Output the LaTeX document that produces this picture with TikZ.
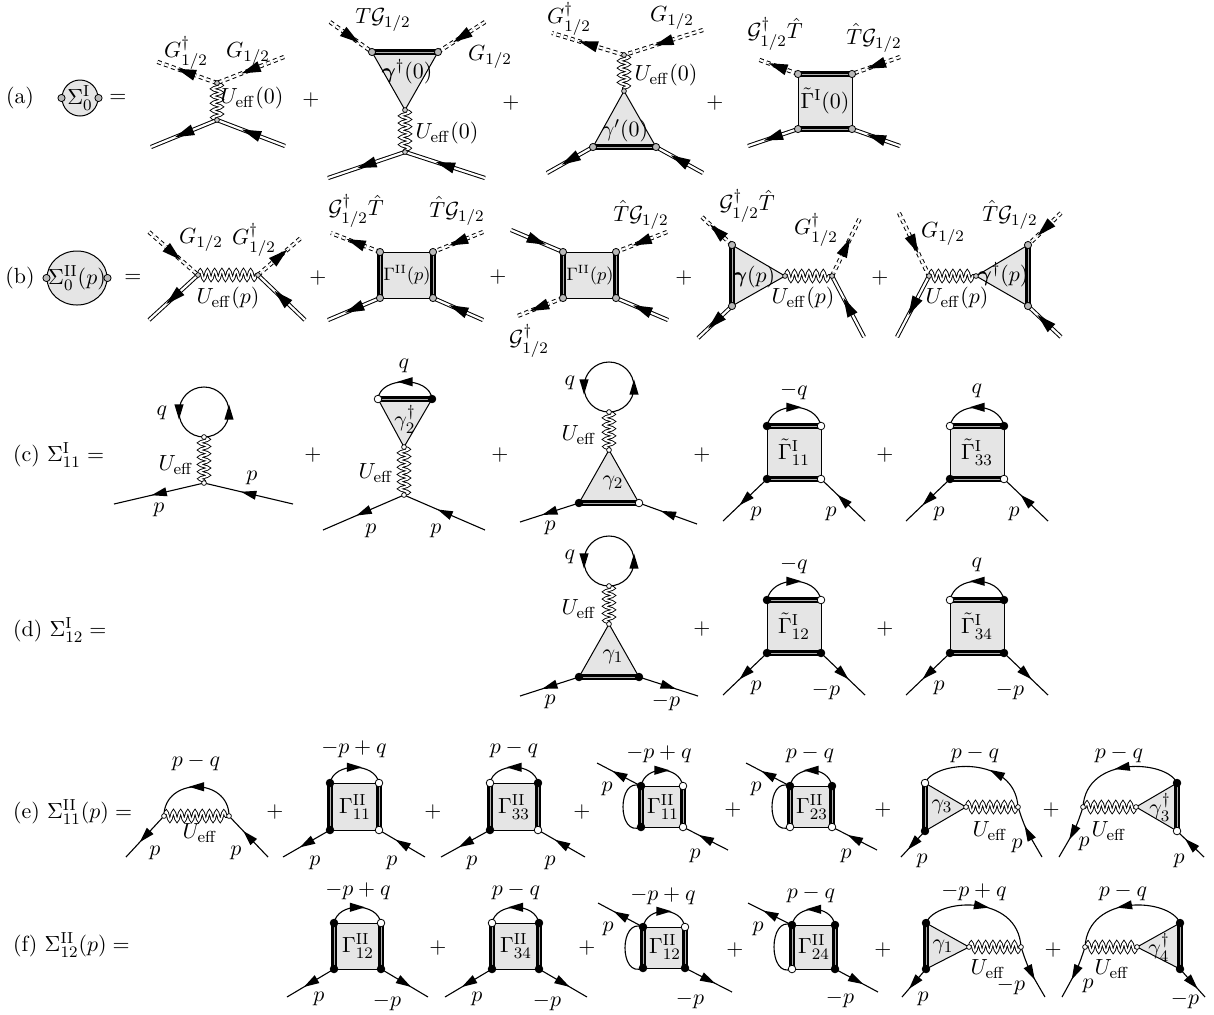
\documentclass[tikz,border=0pt]{standalone}
\usepackage{amsmath}
\usetikzlibrary{decorations.markings,decorations.pathmorphing,shapes.geometric}
\newcommand\tipS{\fill[black] (3.8pt,0pt) -- (-3.8pt,2.3pt) -- (-3.8pt,-2.3pt) -- cycle;}
\newcommand\tipB{\fill[black] (4.8pt,0pt) -- (-4.8pt,2.8pt) -- (-4.8pt,-2.8pt) -- cycle;}
\newcommand\vtx[2]{\node[#1] (#2d) at (#2) {};}
\tikzset{
  every node/.style={font=\fontsize{10.95}{13}\selectfont},
  smallt/.style={font=\fontsize{9}{11}\selectfont},
  fl/.style={line width=0.55pt},
  dbl/.style={line width=0.5pt, double, double distance=1.1pt},
  ddash/.style={line width=0.5pt, double, double distance=1.1pt, dash pattern=on 2pt off 1.7pt},
  wavy/.style={line width=0.45pt, double, double distance=0.9pt, decorate, decoration={snake, amplitude=2.2pt, segment length=3.6pt}},
  tdbl/.style={line width=1.05pt, double=gray!60, double distance=0.5pt},
  blob/.style={fill=gray!20, draw, line width=0.5pt, line join=round},
  blobc/.style={circle, fill=gray!20, draw, line width=0.5pt, inner sep=0pt},
  blobe/.style={ellipse, fill=gray!20, draw, line width=0.5pt, inner sep=0pt, minimum width=30pt, minimum height=27pt},
  gdot/.style={circle, fill=gray!55, draw, line width=0.4pt, inner sep=0pt, minimum size=3.6pt},
  sgdot/.style={circle, fill=gray!40, draw, line width=0.35pt, inner sep=0pt, minimum size=2.4pt},
  swdot/.style={circle, fill=white, draw, line width=0.35pt, inner sep=0pt, minimum size=2.4pt},
  bdot/.style={circle, fill=black, draw, line width=0.4pt, inner sep=0pt, minimum size=3.8pt},
  wdot/.style={circle, fill=white, draw, line width=0.4pt, inner sep=0pt, minimum size=3.8pt},
  am/.style={postaction={decorate, decoration={markings, mark=at position #1 with {\tipS}}}},
  am/.default=0.5,
  amb/.style={postaction={decorate, decoration={markings, mark=at position #1 with {\tipB}}}},
  amb/.default=0.5,
  am2/.style={postaction={decorate, decoration={markings, mark=at position 0.25 with {\tipS}, mark=at position 0.75 with {\tipS}}}},
}
\begin{document}
\begin{tikzpicture}[x=0.5pt,y=-0.5pt]
\useasboundingbox (0,0) rectangle (1214,1014);
\fill[white] (0,0) rectangle (1214,1014);

% ================= row (a)
\node (rowa) at (20,98) {(a)};
\node[blobc, minimum size=18pt] (Sa) at (80,98) {};
\node (Sat) at (80,98) {$\Sigma^{\rm I}_0$};
\node[gdot] (Saw) at (Sa.west) {};
\node[gdot] (Sae) at (Sa.east) {};
\node (eqa) at (118,98) {$=$};

\coordinate (a1t) at (217,83);
\coordinate (a1b) at (217,120);
\coordinate (a1el) at (155,61);
\coordinate (a1er) at (284,57);
\coordinate (a1dl) at (151,147);
\coordinate (a1dr) at (285,146);
\draw[wavy] (a1t) -- (a1b);
\draw[ddash,amb] (a1t) -- (a1el);
\draw[ddash,amb] (a1er) -- (a1t);
\draw[dbl,amb] (a1b) -- (a1dl);
\draw[dbl,amb] (a1dr) -- (a1b);
\vtx{sgdot}{a1t}\vtx{sgdot}{a1b}
\node (a1x) at (186,53) {$G^\dagger_{1/2}$};
\node (a1y) at (248,54) {$G_{1/2}$};
\node (a1z) at (252,98) {$U_{\rm eff}(0)$};
\node (pa1) at (311,100) {$+$};

\coordinate (a2tl) at (372,52);
\coordinate (a2tr) at (438,52);
\coordinate (a2a) at (405,110);
\coordinate (a2b) at (405,152);
\coordinate (a2el) at (330,22);
\coordinate (a2er) at (485,22);
\coordinate (a2dl) at (328,178);
\coordinate (a2dr) at (485,178);
\draw[blob] (a2tl) -- (a2tr) -- (a2a) -- cycle;
\draw[tdbl] (a2tl) -- (a2tr);
\draw[ddash,amb] (a2el) -- (a2tl);
\draw[ddash,amb] (a2er) -- (a2tr);
\draw[wavy] (a2a) -- (a2b);
\draw[dbl,amb] (a2b) -- (a2dl);
\draw[dbl,amb] (a2dr) -- (a2b);
\vtx{gdot}{a2tl}\vtx{gdot}{a2tr}\vtx{sgdot}{a2a}\vtx{sgdot}{a2b}
\node (a2x) at (383,20) {$T\mathcal{G}_{1/2}$};
\node (a2y) at (490,57) {$G_{1/2}$};
\node (a2z) at (407,72) {$\boldsymbol{\gamma}^\dagger(0)$};
\node (a2w) at (447,133) {$U_{\rm eff}(0)$};
\node (pa2) at (511,103) {$+$};

\coordinate (a3t) at (624,55);
\coordinate (a3a) at (624,91);
\coordinate (a3bl) at (593,147);
\coordinate (a3br) at (656,147);
\coordinate (a3el) at (552,33);
\coordinate (a3er) at (703,30);
\coordinate (a3dl) at (547,173);
\coordinate (a3dr) at (703,173);
\draw[blob] (a3a) -- (a3bl) -- (a3br) -- cycle;
\draw[tdbl] (a3bl) -- (a3br);
\draw[wavy] (a3t) -- (a3a);
\draw[ddash,amb] (a3t) -- (a3el);
\draw[ddash,amb] (a3er) -- (a3t);
\draw[dbl,amb] (a3bl) -- (a3dl);
\draw[dbl,amb] (a3dr) -- (a3br);
\vtx{sgdot}{a3t}\vtx{sgdot}{a3a}\vtx{gdot}{a3bl}\vtx{gdot}{a3br}
\node (a3x) at (569,19) {$G^\dagger_{1/2}$};
\node (a3y) at (672,18) {$G_{1/2}$};
\node (a3z) at (666,75) {$U_{\rm eff}(0)$};
\node (a3w) at (625,131) {$\gamma'(0)$};
\node (pa3) at (715,103) {$+$};

\coordinate (a4tl) at (798,74);
\coordinate (a4tr) at (852,74);
\coordinate (a4bl) at (798,129);
\coordinate (a4br) at (852,129);
\coordinate (a4el) at (757,59);
\coordinate (a4er) at (900,57);
\coordinate (a4dl) at (748,146);
\coordinate (a4dr) at (900,146);
\draw[blob] (a4tl) -- (a4tr) -- (a4br) -- (a4bl) -- cycle;
\draw[tdbl] (a4tl) -- (a4tr);
\draw[tdbl] (a4bl) -- (a4br);
\draw[ddash,amb] (a4tl) -- (a4el);
\draw[ddash,amb] (a4er) -- (a4tr);
\draw[dbl,amb] (a4bl) -- (a4dl);
\draw[dbl,amb] (a4dr) -- (a4br);
\vtx{gdot}{a4tl}\vtx{gdot}{a4tr}\vtx{gdot}{a4bl}\vtx{gdot}{a4br}
\node (a4x) at (775,34) {$\mathcal{G}^\dagger_{1/2}\hat T$};
\node (a4y) at (874,38) {$\hat T\mathcal{G}_{1/2}$};
\node (a4z) at (825,101) {$\tilde\Gamma^{\rm I}(0)$};

% ================= row (b)
\node (rowb) at (20,278) {(b)};
\node[blobe] (Sb) at (77,278) {};
\node (Sbt) at (77,278) {$\Sigma^{\rm II}_0(p)$};
\node[gdot] (Sbw) at (Sb.west) {};
\node[gdot] (Sbe) at (Sb.east) {};
\node (eqb) at (133,278) {$=$};

\coordinate (b1l) at (198,275);
\coordinate (b1r) at (258,275);
\coordinate (b1el) at (149,232);
\coordinate (b1er) at (302,237);
\coordinate (b1dl) at (149,320);
\coordinate (b1dr) at (305,320);
\draw[wavy] (b1l) -- (b1r);
\draw[ddash,amb] (b1el) -- (b1l);
\draw[ddash,amb] (b1r) -- (b1er);
\draw[dbl,amb] (b1l) -- (b1dl);
\draw[dbl,amb] (b1dr) -- (b1r);
\vtx{sgdot}{b1l}\vtx{sgdot}{b1r}
\node (b1x) at (201,240) {$G_{1/2}$};
\node (b1y) at (254,240) {$G^\dagger_{1/2}$};
\node (b1z) at (228,298) {$U_{\rm eff}(p)$};
\node (pb1) at (318,278) {$+$};

\coordinate (b2tl) at (380,252);
\coordinate (b2tr) at (433,252);
\coordinate (b2bl) at (380,298);
\coordinate (b2br) at (433,298);
\coordinate (b2el) at (331,233);
\coordinate (b2er) at (483,232);
\coordinate (b2dl) at (328,320);
\coordinate (b2dr) at (483,320);
\draw[blob] (b2tl) -- (b2tr) -- (b2br) -- (b2bl) -- cycle;
\draw[tdbl] (b2tl) -- (b2bl);
\draw[tdbl] (b2tr) -- (b2br);
\draw[ddash,amb] (b2tl) -- (b2el);
\draw[ddash,amb] (b2er) -- (b2tr);
\draw[dbl,amb] (b2bl) -- (b2dl);
\draw[dbl,amb] (b2dr) -- (b2br);
\vtx{gdot}{b2tl}\vtx{gdot}{b2tr}\vtx{gdot}{b2bl}\vtx{gdot}{b2br}
\node (b2x) at (356,211) {$\mathcal{G}^\dagger_{1/2}\hat T$};
\node (b2y) at (457,211) {$\hat T\mathcal{G}_{1/2}$};
\node[smallt] (b2z) at (407,275) {$\Gamma^{\rm II}(p)$};
\node (pb2) at (498,277) {$+$};

\coordinate (b3tl) at (563,252);
\coordinate (b3tr) at (616,252);
\coordinate (b3bl) at (563,298);
\coordinate (b3br) at (616,298);
\coordinate (b3el) at (511,230);
\coordinate (b3er) at (667,232);
\coordinate (b3dl) at (515,317);
\coordinate (b3dr) at (668,320);
\draw[blob] (b3tl) -- (b3tr) -- (b3br) -- (b3bl) -- cycle;
\draw[tdbl] (b3tl) -- (b3bl);
\draw[tdbl] (b3tr) -- (b3br);
\draw[dbl,amb] (b3el) -- (b3tl);
\draw[ddash,amb] (b3er) -- (b3tr);
\draw[ddash,amb] (b3bl) -- (b3dl);
\draw[dbl,amb] (b3dr) -- (b3br);
\vtx{gdot}{b3tl}\vtx{gdot}{b3tr}\vtx{gdot}{b3bl}\vtx{gdot}{b3br}
\node (b3x) at (641,215) {$\hat T\mathcal{G}_{1/2}$};
\node (b3y) at (529,341) {$\mathcal{G}^\dagger_{1/2}$};
\node[smallt] (b3z) at (590,275) {$\Gamma^{\rm II}(p)$};
\node (pb3) at (684,278) {$+$};

\coordinate (b4tl) at (732,245);
\coordinate (b4bl) at (732,306);
\coordinate (b4a) at (785,276);
\coordinate (b4v) at (832,276);
\coordinate (b4el) at (702,217);
\coordinate (b4dl) at (698,338);
\coordinate (b4er) at (860,218);
\coordinate (b4dr) at (864,337);
\draw[blob] (b4tl) -- (b4a) -- (b4bl) -- cycle;
\draw[tdbl] (b4tl) -- (b4bl);
\draw[ddash,amb] (b4tl) -- (b4el);
\draw[dbl,amb] (b4bl) -- (b4dl);
\draw[wavy] (b4a) -- (b4v);
\draw[ddash,amb] (b4v) -- (b4er);
\draw[dbl,amb] (b4dr) -- (b4v);
\vtx{gdot}{b4tl}\vtx{gdot}{b4bl}\vtx{sgdot}{b4a}\vtx{sgdot}{b4v}
\node (b4x) at (747,206) {$\mathcal{G}^\dagger_{1/2}\hat T$};
\node (b4y) at (754,277) {$\boldsymbol{\gamma}(p)$};
\node (b4z) at (803,298) {$U_{\rm eff}(p)$};
\node (b4w) at (816,230) {$G^\dagger_{1/2}$};
\node (pb4) at (880,278) {$+$};

\coordinate (b5v) at (929,276);
\coordinate (b5a) at (976,276);
\coordinate (b5tr) at (1028,245);
\coordinate (b5br) at (1028,306);
\coordinate (b5el) at (899,213);
\coordinate (b5dl) at (897,337);
\coordinate (b5er) at (1061,213);
\coordinate (b5dr) at (1061,337);
\draw[blob] (b5a) -- (b5tr) -- (b5br) -- cycle;
\draw[tdbl] (b5tr) -- (b5br);
\draw[wavy] (b5v) -- (b5a);
\draw[ddash,amb] (b5el) -- (b5v);
\draw[dbl,amb] (b5v) -- (b5dl);
\draw[ddash,amb] (b5er) -- (b5tr);
\draw[dbl,amb] (b5dr) -- (b5br);
\vtx{gdot}{b5tr}\vtx{gdot}{b5br}\vtx{sgdot}{b5a}\vtx{sgdot}{b5v}
\node (b5x) at (943,234) {$G_{1/2}$};
\node (b5y) at (1010,215) {$\hat T\mathcal{G}_{1/2}$};
\node (b5z) at (1003,275) {$\boldsymbol{\gamma}^\dagger(p)$};
\node (b5w) at (957,298) {$U_{\rm eff}(p)$};

% ================= row (c)
\node[anchor=west] (rowc) at (6,455) {(c) $\Sigma^{\rm I}_{11}=$};

\coordinate (c1o) at (204,437);
\coordinate (c1R) at (229,412);
\coordinate (c1T) at (204,387);
\coordinate (c1L) at (179,412);
\coordinate (c1v) at (204,483);
\coordinate (c1el) at (114,504);
\coordinate (c1er) at (293,504);
\draw[fl,am2] (c1o) .. controls +(13.8,0) and +(0,13.8) .. (c1R) .. controls +(0,-13.8) and +(13.8,0) .. (c1T) .. controls +(-13.8,0) and +(0,-13.8) .. (c1L) .. controls +(0,13.8) and +(-13.8,0) .. (c1o);
\draw[wavy] (c1o) -- (c1v);
\draw[fl,am] (c1v) -- (c1el);
\draw[fl,am] (c1er) -- (c1v);
\vtx{swdot}{c1o}\vtx{swdot}{c1v}
\node (c1x) at (162,413) {$q$};
\node (c1y) at (176,465) {$U_{\rm eff}$};
\node (c1z) at (159,510) {$p$};
\node (c1w) at (252,478) {$p$};
\node (pc1) at (313,455) {$+$};

\coordinate (c2tl) at (378,399);
\coordinate (c2tr) at (432,399);
\coordinate (c2a) at (404,447);
\coordinate (c2v) at (404,495);
\coordinate (c2el) at (323,530);
\coordinate (c2er) at (485,530);
\draw[blob] (c2tl) -- (c2tr) -- (c2a) -- cycle;
\draw[tdbl] (c2tl) -- (c2tr);
\draw[fl,am] (c2tr) .. controls (430,376) and (380,376) .. (c2tl);
\draw[wavy] (c2a) -- (c2v);
\draw[fl,am] (c2v) -- (c2el);
\draw[fl,am] (c2er) -- (c2v);
\vtx{wdot}{c2tl}\vtx{bdot}{c2tr}\vtx{swdot}{c2a}\vtx{swdot}{c2v}
\node (c2x) at (404,366) {$q$};
\node (c2y) at (405,419) {$\gamma_2^\dagger$};
\node (c2z) at (376,473) {$U_{\rm eff}$};
\node (c2w) at (371,531) {$p$};
\node (c2u) at (436,531) {$p$};
\node (pc2) at (500,455) {$+$};

\coordinate (c3o) at (609,412);
\coordinate (c3R) at (634,387);
\coordinate (c3T) at (609,362);
\coordinate (c3L) at (584,387);
\coordinate (c3a) at (609,450);
\coordinate (c3bl) at (579,503);
\coordinate (c3br) at (639,503);
\coordinate (c3el) at (520,522);
\coordinate (c3er) at (697,524);
\draw[fl,am2] (c3o) .. controls +(13.8,0) and +(0,13.8) .. (c3R) .. controls +(0,-13.8) and +(13.8,0) .. (c3T) .. controls +(-13.8,0) and +(0,-13.8) .. (c3L) .. controls +(0,13.8) and +(-13.8,0) .. (c3o);
\draw[wavy] (c3o) -- (c3a);
\draw[blob] (c3a) -- (c3bl) -- (c3br) -- cycle;
\draw[tdbl] (c3bl) -- (c3br);
\draw[fl,am] (c3bl) -- (c3el);
\draw[fl,am] (c3er) -- (c3br);
\vtx{swdot}{c3o}\vtx{swdot}{c3a}\vtx{bdot}{c3bl}\vtx{wdot}{c3br}
\node (c3x) at (570,383) {$q$};
\node (c3y) at (579,435) {$U_{\rm eff}$};
\node (c3z) at (613,483) {$\gamma_2$};
\node (c3w) at (550,528) {$p$};
\node (pc3) at (702,455) {$+$};

\coordinate (c4tl) at (767,426);
\coordinate (c4tr) at (821,426);
\coordinate (c4bl) at (767,479);
\coordinate (c4br) at (821,479);
\coordinate (c4el) at (723,521);
\coordinate (c4er) at (865,521);
\draw[blob] (c4tl) -- (c4tr) -- (c4br) -- (c4bl) -- cycle;
\draw[tdbl] (c4tl) -- (c4tr);
\draw[tdbl] (c4bl) -- (c4br);
\draw[fl,am] (c4tl) .. controls (772,401) and (816,401) .. (c4tr);
\draw[fl,am] (c4bl) -- (c4el);
\draw[fl,am] (c4er) -- (c4br);
\vtx{bdot}{c4tl}\vtx{wdot}{c4tr}\vtx{bdot}{c4bl}\vtx{wdot}{c4br}
\node (c4x) at (794,391) {$-q$};
\node (c4y) at (794,452) {$\tilde\Gamma^{\rm I}_{11}$};
\node (c4z) at (756,514) {$p$};
\node (c4w) at (831,514) {$p$};
\node (pc4) at (885,455) {$+$};

\coordinate (c5tl) at (950,426);
\coordinate (c5tr) at (1004,426);
\coordinate (c5bl) at (950,479);
\coordinate (c5br) at (1004,479);
\coordinate (c5el) at (906,521);
\coordinate (c5er) at (1048,521);
\draw[blob] (c5tl) -- (c5tr) -- (c5br) -- (c5bl) -- cycle;
\draw[tdbl] (c5tl) -- (c5tr);
\draw[tdbl] (c5bl) -- (c5br);
\draw[fl,am] (c5tr) .. controls (999,401) and (955,401) .. (c5tl);
\draw[fl,am] (c5bl) -- (c5el);
\draw[fl,am] (c5er) -- (c5br);
\vtx{wdot}{c5tl}\vtx{bdot}{c5tr}\vtx{bdot}{c5bl}\vtx{wdot}{c5br}
\node (c5x) at (977,391) {$q$};
\node (c5y) at (977,452) {$\tilde\Gamma^{\rm I}_{33}$};
\node (c5z) at (939,514) {$p$};
\node (c5w) at (1014,514) {$p$};

% ================= row (d)
\node[anchor=west] (rowd) at (6,630) {(d) $\Sigma^{\rm I}_{12}=$};

\coordinate (d3o) at (609,586);
\coordinate (d3R) at (634,561);
\coordinate (d3T) at (609,536);
\coordinate (d3L) at (584,561);
\coordinate (d3a) at (609,624);
\coordinate (d3bl) at (579,677);
\coordinate (d3br) at (639,677);
\coordinate (d3el) at (520,696);
\coordinate (d3er) at (698,696);
\draw[fl,am2] (d3o) .. controls +(13.8,0) and +(0,13.8) .. (d3R) .. controls +(0,-13.8) and +(13.8,0) .. (d3T) .. controls +(-13.8,0) and +(0,-13.8) .. (d3L) .. controls +(0,13.8) and +(-13.8,0) .. (d3o);
\draw[wavy] (d3o) -- (d3a);
\draw[blob] (d3a) -- (d3bl) -- (d3br) -- cycle;
\draw[tdbl] (d3bl) -- (d3br);
\draw[fl,am] (d3bl) -- (d3el);
\draw[fl,am] (d3br) -- (d3er);
\vtx{swdot}{d3o}\vtx{swdot}{d3a}\vtx{bdot}{d3bl}\vtx{bdot}{d3br}
\node (d3x) at (570,557) {$q$};
\node (d3y) at (579,609) {$U_{\rm eff}$};
\node (d3z) at (613,657) {$\gamma_1$};
\node (d3w) at (550,702) {$p$};
\node (d3u) at (666,702) {$-p$};
\node (pd3) at (702,629) {$+$};

\coordinate (d4tl) at (767,600);
\coordinate (d4tr) at (821,600);
\coordinate (d4bl) at (767,653);
\coordinate (d4br) at (821,653);
\coordinate (d4el) at (723,695);
\coordinate (d4er) at (865,695);
\draw[blob] (d4tl) -- (d4tr) -- (d4br) -- (d4bl) -- cycle;
\draw[tdbl] (d4tl) -- (d4tr);
\draw[tdbl] (d4bl) -- (d4br);
\draw[fl,am] (d4tl) .. controls (772,575) and (816,575) .. (d4tr);
\draw[fl,am] (d4bl) -- (d4el);
\draw[fl,am] (d4br) -- (d4er);
\vtx{bdot}{d4tl}\vtx{wdot}{d4tr}\vtx{bdot}{d4bl}\vtx{bdot}{d4br}
\node (d4x) at (794,565) {$-q$};
\node (d4y) at (794,626) {$\tilde\Gamma^{\rm I}_{12}$};
\node (d4z) at (756,688) {$p$};
\node (d4w) at (826,691) {$-p$};
\node (pd4) at (885,629) {$+$};

\coordinate (d5tl) at (950,600);
\coordinate (d5tr) at (1004,600);
\coordinate (d5bl) at (950,653);
\coordinate (d5br) at (1004,653);
\coordinate (d5el) at (906,695);
\coordinate (d5er) at (1048,695);
\draw[blob] (d5tl) -- (d5tr) -- (d5br) -- (d5bl) -- cycle;
\draw[tdbl] (d5tl) -- (d5tr);
\draw[tdbl] (d5bl) -- (d5br);
\draw[fl,am] (d5tr) .. controls (999,575) and (955,575) .. (d5tl);
\draw[fl,am] (d5bl) -- (d5el);
\draw[fl,am] (d5br) -- (d5er);
\vtx{wdot}{d5tl}\vtx{bdot}{d5tr}\vtx{bdot}{d5bl}\vtx{bdot}{d5br}
\node (d5x) at (977,565) {$q$};
\node (d5y) at (977,626) {$\tilde\Gamma^{\rm I}_{34}$};
\node (d5z) at (939,688) {$p$};
\node (d5w) at (1010,691) {$-p$};

% ================= row (e)
\node[anchor=west] (rowe) at (6,812) {(e) $\Sigma^{\rm II}_{11}(p)=$};

\coordinate (e1l) at (164,816);
\coordinate (e1r) at (229,816);
\coordinate (e1el) at (126,857);
\coordinate (e1er) at (268,857);
\draw[fl,am] (e1r) .. controls (229,777) and (164,777) .. (e1l);
\draw[wavy] (e1l) -- (e1r);
\draw[fl,am] (e1l) -- (e1el);
\draw[fl,am] (e1er) -- (e1r);
\vtx{swdot}{e1l}\vtx{swdot}{e1r}
\node (e1x) at (196,762) {$p-q$};
\node (e1y) at (200,833) {$U_{\rm eff}$};
\node (e1z) at (155,853) {$p$};
\node (e1w) at (236,853) {$p$};
\node (pe1) at (275,812) {$+$};

\coordinate (e2tl) at (330,783);
\coordinate (e2tr) at (379,783);
\coordinate (e2bl) at (330,830);
\coordinate (e2br) at (379,830);
\coordinate (e2el) at (283,857);
\coordinate (e2er) at (425,857);
\draw[blob] (e2tl) -- (e2tr) -- (e2br) -- (e2bl) -- cycle;
\draw[tdbl] (e2tl) -- (e2bl);
\draw[tdbl] (e2tr) -- (e2br);
\draw[fl,am] (e2tl) .. controls (334,762) and (375,762) .. (e2tr);
\draw[fl,am] (e2bl) -- (e2el);
\draw[fl,am] (e2er) -- (e2br);
\vtx{bdot}{e2tl}\vtx{wdot}{e2tr}\vtx{bdot}{e2bl}\vtx{wdot}{e2br}
\node (e2x) at (354,749) {$-p+q$};
\node (e2y) at (355,807) {$\Gamma^{\rm II}_{11}$};
\node (e2z) at (315,863) {$p$};
\node (e2w) at (392,863) {$p$};
\node (pe2) at (433,812) {$+$};

\coordinate (e3tl) at (490,783);
\coordinate (e3tr) at (538,783);
\coordinate (e3bl) at (490,830);
\coordinate (e3br) at (538,830);
\coordinate (e3el) at (441,857);
\coordinate (e3er) at (585,857);
\draw[blob] (e3tl) -- (e3tr) -- (e3br) -- (e3bl) -- cycle;
\draw[tdbl] (e3tl) -- (e3bl);
\draw[tdbl] (e3tr) -- (e3br);
\draw[fl,am] (e3tr) .. controls (534,762) and (494,762) .. (e3tl);
\draw[fl,am] (e3bl) -- (e3el);
\draw[fl,am] (e3er) -- (e3br);
\vtx{wdot}{e3tl}\vtx{bdot}{e3tr}\vtx{bdot}{e3bl}\vtx{wdot}{e3br}
\node (e3x) at (514,749) {$p-q$};
\node (e3y) at (514,807) {$\Gamma^{\rm II}_{33}$};
\node (e3z) at (472,863) {$p$};
\node (e3w) at (550,863) {$p$};
\node (pe3) at (582,812) {$+$};

\coordinate (e4tl) at (641,786);
\coordinate (e4tr) at (683,786);
\coordinate (e4bl) at (641,827);
\coordinate (e4br) at (683,827);
\coordinate (e4el) at (597,763);
\coordinate (e4er) at (728,850);
\draw[blob] (e4tl) -- (e4tr) -- (e4br) -- (e4bl) -- cycle;
\draw[tdbl] (e4tl) -- (e4bl);
\draw[tdbl] (e4tr) -- (e4br);
\draw[fl,am] (e4tl) .. controls (645,765) and (679,765) .. (e4tr);
\draw[fl] (e4tl) .. controls (617,776) and (617,838) .. (e4bl);
\draw[fl,am] (e4tl) -- (e4el);
\draw[fl,am] (e4er) -- (e4br);
\vtx{bdot}{e4tl}\vtx{wdot}{e4tr}\vtx{bdot}{e4bl}\vtx{wdot}{e4br}
\node (e4x) at (659,754) {$-p+q$};
\node (e4y) at (663,807) {$\Gamma^{\rm II}_{11}$};
\node (e4z) at (607,789) {$p$};
\node (e4w) at (695,856) {$p$};
\node (pe4) at (733,810) {$+$};

\coordinate (e5tl) at (790,786);
\coordinate (e5tr) at (832,786);
\coordinate (e5bl) at (790,827);
\coordinate (e5br) at (832,827);
\coordinate (e5el) at (746,763);
\coordinate (e5er) at (877,850);
\draw[blob] (e5tl) -- (e5tr) -- (e5br) -- (e5bl) -- cycle;
\draw[tdbl] (e5tl) -- (e5bl);
\draw[tdbl] (e5tr) -- (e5br);
\draw[fl,am] (e5tr) .. controls (828,765) and (794,765) .. (e5tl);
\draw[fl] (e5tl) .. controls (766,776) and (766,838) .. (e5bl);
\draw[fl,am] (e5tl) -- (e5el);
\draw[fl,am] (e5er) -- (e5br);
\vtx{bdot}{e5tl}\vtx{bdot}{e5tr}\vtx{wdot}{e5bl}\vtx{wdot}{e5br}
\node (e5x) at (810,754) {$p-q$};
\node (e5y) at (812,807) {$\Gamma^{\rm II}_{23}$};
\node (e5z) at (756,789) {$p$};
\node (e5w) at (846,856) {$p$};
\node (pe5) at (883,810) {$+$};

\coordinate (e6tl) at (925,783);
\coordinate (e6bl) at (925,831);
\coordinate (e6a) at (966,807);
\coordinate (e6v) at (1018,807);
\coordinate (e6el) at (901,857);
\coordinate (e6er) at (1042,857);
\draw[blob] (e6tl) -- (e6a) -- (e6bl) -- cycle;
\draw[tdbl] (e6tl) -- (e6bl);
\draw[wavy] (e6a) -- (e6v);
\draw[fl,am=0.35] (e6v) .. controls (1015,755) and (935,760) .. (e6tl);
\draw[fl,am] (e6er) .. controls (1025,828) .. (e6v);
\draw[fl,am] (e6bl) -- (e6el);
\vtx{wdot}{e6tl}\vtx{bdot}{e6bl}\vtx{swdot}{e6a}\vtx{swdot}{e6v}
\node (e6x) at (975,754) {$p-q$};
\node (e6y) at (942,807) {$\gamma_3$};
\node (e6z) at (990,831) {$U_{\rm eff}$};
\node (e6w) at (1017,846) {$p$};
\node (e6u) at (922,861) {$p$};
\node (pe6) at (1051,810) {$+$};

\coordinate (e7tr) at (1177,783);
\coordinate (e7br) at (1177,831);
\coordinate (e7a) at (1136,807);
\coordinate (e7v) at (1083,807);
\coordinate (e7el) at (1059,857);
\coordinate (e7er) at (1204,857);
\draw[blob] (e7tr) -- (e7a) -- (e7br) -- cycle;
\draw[tdbl] (e7tr) -- (e7br);
\draw[wavy] (e7a) -- (e7v);
\draw[fl,am] (e7tr) .. controls (1167,760) and (1086,755) .. (e7v);
\draw[fl,am] (e7v) .. controls (1076,828) .. (e7el);
\draw[fl,am] (e7er) -- (e7br);
\vtx{bdot}{e7tr}\vtx{wdot}{e7br}\vtx{swdot}{e7a}\vtx{swdot}{e7v}
\node (e7x) at (1119,754) {$p-q$};
\node (e7y) at (1160,807) {$\gamma_3^\dagger$};
\node (e7z) at (1109,831) {$U_{\rm eff}$};
\node (e7w) at (1084,844) {$p$};
\node (e7u) at (1179,861) {$p$};

% ================= row (f)
\node[anchor=west] (rowf) at (6,945) {(f) $\Sigma^{\rm II}_{12}(p)=$};

\coordinate (f1tl) at (334,923);
\coordinate (f1tr) at (381,923);
\coordinate (f1bl) at (334,969);
\coordinate (f1br) at (381,969);
\coordinate (f1el) at (287,997);
\coordinate (f1er) at (428,997);
\draw[blob] (f1tl) -- (f1tr) -- (f1br) -- (f1bl) -- cycle;
\draw[tdbl] (f1tl) -- (f1bl);
\draw[tdbl] (f1tr) -- (f1br);
\draw[fl,am] (f1tl) .. controls (338,902) and (377,902) .. (f1tr);
\draw[fl,am] (f1bl) -- (f1el);
\draw[fl,am] (f1br) -- (f1er);
\vtx{bdot}{f1tl}\vtx{wdot}{f1tr}\vtx{bdot}{f1bl}\vtx{bdot}{f1br}
\node (f1x) at (358,891) {$-p+q$};
\node (f1y) at (358,946) {$\Gamma^{\rm II}_{12}$};
\node (f1z) at (319,999) {$p$};
\node (f1w) at (387,1002) {$-p$};
\node (pf1) at (438,948) {$+$};

\coordinate (f2tl) at (492,923);
\coordinate (f2tr) at (539,923);
\coordinate (f2bl) at (492,969);
\coordinate (f2br) at (539,969);
\coordinate (f2el) at (445,997);
\coordinate (f2er) at (587,997);
\draw[blob] (f2tl) -- (f2tr) -- (f2br) -- (f2bl) -- cycle;
\draw[tdbl] (f2tl) -- (f2bl);
\draw[tdbl] (f2tr) -- (f2br);
\draw[fl,am] (f2tr) .. controls (535,902) and (496,902) .. (f2tl);
\draw[fl,am] (f2bl) -- (f2el);
\draw[fl,am] (f2br) -- (f2er);
\vtx{wdot}{f2tl}\vtx{bdot}{f2tr}\vtx{bdot}{f2bl}\vtx{bdot}{f2br}
\node (f2x) at (516,891) {$p-q$};
\node (f2y) at (516,946) {$\Gamma^{\rm II}_{34}$};
\node (f2z) at (477,999) {$p$};
\node (f2w) at (547,1002) {$-p$};
\node (pf2) at (587,948) {$+$};

\coordinate (f3tl) at (643,927);
\coordinate (f3tr) at (685,927);
\coordinate (f3bl) at (643,968);
\coordinate (f3br) at (685,968);
\coordinate (f3el) at (598,903);
\coordinate (f3er) at (732,992);
\draw[blob] (f3tl) -- (f3tr) -- (f3br) -- (f3bl) -- cycle;
\draw[tdbl] (f3tl) -- (f3bl);
\draw[tdbl] (f3tr) -- (f3br);
\draw[fl,am] (f3tl) .. controls (647,906) and (681,906) .. (f3tr);
\draw[fl] (f3tl) .. controls (619,917) and (619,979) .. (f3bl);
\draw[fl,am] (f3tl) -- (f3el);
\draw[fl,am] (f3br) -- (f3er);
\vtx{bdot}{f3tl}\vtx{wdot}{f3tr}\vtx{bdot}{f3bl}\vtx{bdot}{f3br}
\node (f3x) at (663,896) {$-p+q$};
\node (f3y) at (665,947) {$\Gamma^{\rm II}_{12}$};
\node (f3z) at (608,929) {$p$};
\node (f3w) at (690,1000) {$-p$};
\node (pf3) at (735,950) {$+$};

\coordinate (f4tl) at (792,925);
\coordinate (f4tr) at (835,925);
\coordinate (f4bl) at (792,969);
\coordinate (f4br) at (835,969);
\coordinate (f4el) at (748,903);
\coordinate (f4er) at (878,992);
\draw[blob] (f4tl) -- (f4tr) -- (f4br) -- (f4bl) -- cycle;
\draw[tdbl] (f4tl) -- (f4bl);
\draw[tdbl] (f4tr) -- (f4br);
\draw[fl,am] (f4tr) .. controls (831,904) and (796,904) .. (f4tl);
\draw[fl] (f4tl) .. controls (768,915) and (768,979) .. (f4bl);
\draw[fl,am] (f4tl) -- (f4el);
\draw[fl,am] (f4br) -- (f4er);
\vtx{bdot}{f4tl}\vtx{bdot}{f4tr}\vtx{wdot}{f4bl}\vtx{bdot}{f4br}
\node (f4x) at (811,894) {$p-q$};
\node (f4y) at (814,947) {$\Gamma^{\rm II}_{24}$};
\node (f4z) at (758,929) {$p$};
\node (f4w) at (840,999) {$-p$};
\node (pf4) at (883,950) {$+$};

\coordinate (f5tl) at (926,923);
\coordinate (f5bl) at (926,969);
\coordinate (f5a) at (969,947);
\coordinate (f5v) at (1021,947);
\coordinate (f5el) at (902,997);
\coordinate (f5er) at (1045,997);
\draw[blob] (f5tl) -- (f5a) -- (f5bl) -- cycle;
\draw[tdbl] (f5tl) -- (f5bl);
\draw[wavy] (f5a) -- (f5v);
\draw[fl,am] (f5tl) .. controls (936,898) and (1018,893) .. (f5v);
\draw[fl,am] (f5v) .. controls (1028,968) .. (f5er);
\draw[fl,am] (f5bl) -- (f5el);
\vtx{bdot}{f5tl}\vtx{bdot}{f5bl}\vtx{swdot}{f5a}\vtx{swdot}{f5v}
\node (f5x) at (974,892) {$-p+q$};
\node (f5y) at (943,947) {$\gamma_1$};
\node (f5z) at (988,969) {$U_{\rm eff}$};
\node (f5w) at (1011,986) {$-p$};
\node (f5u) at (923,999) {$p$};
\node (pf5) at (1053,950) {$+$};

\coordinate (f6tr) at (1180,923);
\coordinate (f6br) at (1180,969);
\coordinate (f6a) at (1137,947);
\coordinate (f6v) at (1085,947);
\coordinate (f6el) at (1062,997);
\coordinate (f6er) at (1205,997);
\draw[blob] (f6tr) -- (f6a) -- (f6br) -- cycle;
\draw[tdbl] (f6tr) -- (f6br);
\draw[wavy] (f6a) -- (f6v);
\draw[fl,am] (f6tr) .. controls (1170,898) and (1088,893) .. (f6v);
\draw[fl,am] (f6v) .. controls (1078,968) .. (f6el);
\draw[fl,am] (f6br) -- (f6er);
\vtx{bdot}{f6tr}\vtx{bdot}{f6br}\vtx{swdot}{f6a}\vtx{swdot}{f6v}
\node (f6x) at (1123,892) {$p-q$};
\node (f6y) at (1159,947) {$\gamma_4^\dagger$};
\node (f6z) at (1112,969) {$U_{\rm eff}$};
\node (f6w) at (1088,986) {$p$};
\node (f6u) at (1185,1000) {$-p$};
\end{tikzpicture}
\end{document}
